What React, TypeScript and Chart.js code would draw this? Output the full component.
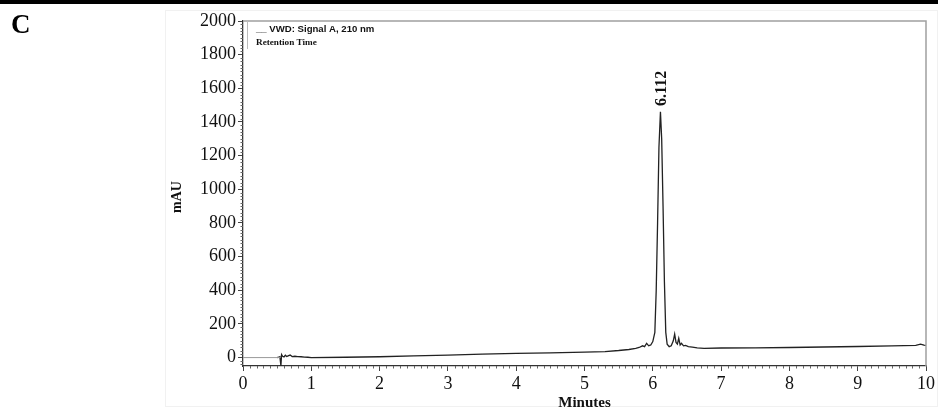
import React, { useEffect, useRef } from "react";
import { Chart, registerables } from "chart.js";

Chart.register(...registerables);

const times = [
  0.5, 0.52, 0.54, 0.555, 0.565, 0.58, 0.6, 0.62, 0.64, 0.66, 0.69, 0.72, 0.76, 0.8, 0.85, 0.9, 0.95, 1.0,
  1.5, 2.0, 2.5, 3.0, 3.5, 4.0, 4.5, 5.0, 5.3, 5.5, 5.65, 5.75, 5.8, 5.85, 5.88, 5.91, 5.94, 5.97,
  6.0, 6.03, 6.05, 6.07, 6.09, 6.112, 6.13, 6.15, 6.17, 6.19, 6.21, 6.24, 6.27, 6.3, 6.32, 6.34,
  6.36, 6.38, 6.4, 6.42, 6.45, 6.48, 6.52, 6.58, 6.65, 6.75, 7.0, 7.5, 8.0, 8.5, 9.0, 9.5, 9.85,
  9.92, 9.97, 10.0,
];
const signal = [
  0, 2, 5, -48, 18, 8, 4, 14, 6, 10, 15, 6, 8, 6, 5, 3, 2, 0,
  2, 5, 10, 15, 20, 25, 28, 32, 36, 42, 48, 55, 60, 70, 65, 85, 70, 75,
  95, 150, 400, 800, 1250, 1460, 1300, 900, 450, 150, 80, 65, 70, 100, 140, 90,
  80, 115, 75, 85, 70, 72, 65, 62, 58, 55, 57, 58, 60, 63, 66, 70, 73,
  80, 74, 72,
];
const baseTimes = [0, 0.55];
const baseValues = [0, 0];
const xTicks = [0, 1, 2, 3, 4, 5, 6, 7, 8, 9, 10];
const yTicks = [0, 200, 400, 600, 800, 1000, 1200, 1400, 1600, 1800, 2000];
const peakTime = 6.112;
const peakValue = 1460;
const peakLabel = "6.112";
const legendLine1 = "__ VWD: Signal A, 210 nm";
const legendLine2 = "Retention Time";
const yTitle = "mAU";
const xTitle = "Minutes";
const panelLetter = "C";

const SERIF = "'Liberation Serif', 'Times New Roman', serif";
const SANS = "'Liberation Sans', Arial, sans-serif";

export default function App() {
  const ref = useRef<HTMLCanvasElement | null>(null);
  useEffect(() => {
    const canvas = ref.current;
    if (!canvas) return;
    const deco = {
      id: "deco",
      beforeDraw(chart: any) {
        const ctx = chart.ctx;
        ctx.save();
        ctx.fillStyle = "#ffffff";
        ctx.fillRect(0, 0, chart.width, chart.height);
        ctx.strokeStyle = "#f1f1f1";
        ctx.lineWidth = 1;
        ctx.strokeRect(165.5, 10.5, 772, 396);
        ctx.restore();
      },
      afterDraw(chart: any) {
        const ctx = chart.ctx;
        const xs = chart.scales.x;
        const ys = chart.scales.y;
        const a = chart.chartArea;
        ctx.save();
        // top black band
        ctx.fillStyle = "#000";
        ctx.fillRect(0, 0, chart.width, 4);
        // panel letter
        ctx.font = `bold 27px ${SERIF}`;
        ctx.textAlign = "left";
        ctx.textBaseline = "alphabetic";
        ctx.fillText(panelLetter, 11, 33);
        // plot border top/right
        ctx.strokeStyle = "#a0a0a0";
        ctx.lineWidth = 1.5;
        ctx.beginPath();
        ctx.moveTo(a.left, a.top);
        ctx.lineTo(a.right, a.top);
        ctx.lineTo(a.right, a.bottom);
        ctx.stroke();
        // minor ticks
        ctx.strokeStyle = "#666";
        ctx.lineWidth = 1;
        ctx.beginPath();
        for (let i = 0; i <= 100; i++) {
          if (i % 10 === 0) continue;
          const px = Math.round(xs.getPixelForValue(i / 10)) + 0.5;
          ctx.moveTo(px, a.bottom);
          ctx.lineTo(px, a.bottom + 2.5);
        }
        for (let v = -40; v <= 2000; v += 20) {
          if (v % 200 === 0) continue;
          const py = Math.round(ys.getPixelForValue(v)) + 0.5;
          ctx.moveTo(a.left, py);
          ctx.lineTo(a.left - 2.5, py);
        }
        ctx.stroke();
        // legend box
        ctx.strokeStyle = "#bbbbbb";
        ctx.lineWidth = 1;
        ctx.beginPath();
        ctx.moveTo(247.5, a.top);
        ctx.lineTo(247.5, a.top + 28);
        ctx.stroke();
        ctx.fillStyle = "#111";
        ctx.font = `bold 9.6px ${SANS}`;
        ctx.textAlign = "left";
        ctx.fillText(legendLine1, 256, 32);
        ctx.font = `bold 9.2px ${SERIF}`;
        ctx.fillText(legendLine2, 256, 45);
        // peak label
        const px = xs.getPixelForValue(peakTime);
        const py = ys.getPixelForValue(peakValue);
        ctx.save();
        ctx.translate(px + 1, py - 6);
        ctx.rotate(-Math.PI / 2);
        ctx.font = `bold 16px ${SERIF}`;
        ctx.textAlign = "left";
        ctx.textBaseline = "middle";
        ctx.fillText(peakLabel, 0, 0);
        ctx.restore();
        // axis titles
        ctx.save();
        ctx.translate(177, 197);
        ctx.rotate(-Math.PI / 2);
        ctx.font = `bold 14px ${SERIF}`;
        ctx.textAlign = "center";
        ctx.textBaseline = "middle";
        ctx.fillText(yTitle, 0, 0);
        ctx.restore();
        ctx.font = `bold 15px ${SERIF}`;
        ctx.textAlign = "center";
        ctx.textBaseline = "middle";
        ctx.fillText(xTitle, (a.left + a.right) / 2, 403);
        ctx.restore();
      },
    };
    const chart = new Chart(canvas, {
      type: "line",
      data: {
        datasets: [
          {
            data: baseTimes.map((t, i) => ({ x: t, y: baseValues[i] })),
            borderColor: "#9a9a9a",
            borderWidth: 1,
            pointRadius: 0,
            tension: 0,
          },
          {
            data: times.map((t, i) => ({ x: t, y: signal[i] })),
            borderColor: "#222222",
            borderWidth: 1.3,
            pointRadius: 0,
            tension: 0,
          },
        ],
      },
      options: {
        animation: false,
        responsive: false,
        devicePixelRatio: 1,
        layout: { padding: { left: 0, top: 21, right: 12, bottom: 0 } },
        plugins: { legend: { display: false }, tooltip: { enabled: false } },
        scales: {
          x: {
            type: "linear",
            min: 0,
            max: 10,
            afterFit: (s: any) => {
              s.height = 47;
            },
            afterBuildTicks: (s: any) => {
              s.ticks = xTicks.map((v) => ({ value: v }));
            },
            border: { color: "#333", width: 1.3 },
            grid: { drawOnChartArea: false, drawTicks: true, tickLength: 5, color: "#444" },
            ticks: {
              autoSkip: false,
              maxRotation: 0,
              padding: 2,
              color: "#111",
              font: { family: SERIF, size: 18 },
              callback: (v: any) => String(v),
            },
          },
          y: {
            type: "linear",
            min: -50,
            max: 2000,
            afterFit: (s: any) => {
              s.width = 243;
            },
            afterBuildTicks: (s: any) => {
              s.ticks = yTicks.map((v) => ({ value: v }));
            },
            border: { color: "#333", width: 1.3 },
            grid: { drawOnChartArea: false, drawTicks: true, tickLength: 5, color: "#444" },
            ticks: {
              autoSkip: false,
              padding: 2,
              color: "#111",
              font: { family: SERIF, size: 18 },
              callback: (v: any) => String(v),
            },
          },
        },
      },
      plugins: [deco],
    });
    return () => chart.destroy();
  }, []);
  return (
    <div style={{ position: "fixed", left: 0, top: 0, width: 938, height: 413, background: "#fff" }}>
      <canvas ref={ref} width={938} height={413} style={{ width: 938, height: 413, display: "block" }} />
    </div>
  );
}
